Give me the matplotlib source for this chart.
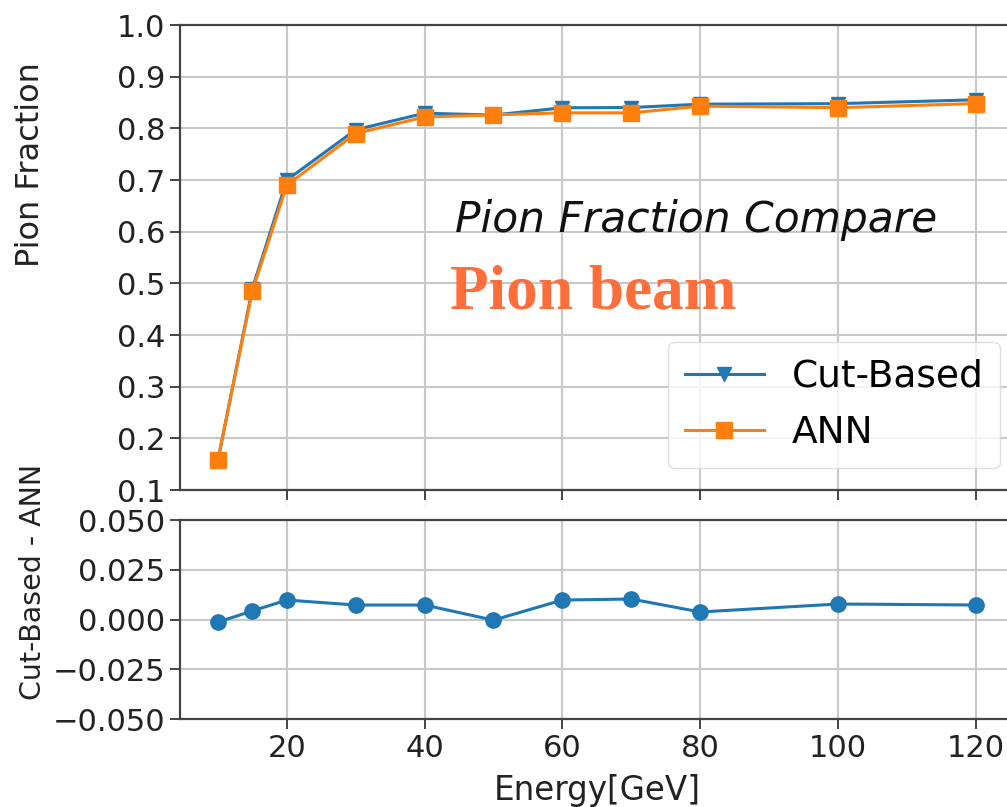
import matplotlib
matplotlib.use("Agg")
import matplotlib.pyplot as plt
import numpy as np

# Beam energies and measured pion fractions
energy = [10, 15, 20, 30, 40, 50, 60, 70, 80, 100, 120]
cut_based = [0.1567, 0.4893, 0.6998, 0.7973, 0.8293, 0.8257, 0.8398, 0.8403, 0.8468, 0.8478, 0.8553]
ann = [0.1580, 0.4850, 0.6900, 0.7900, 0.8220, 0.8260, 0.8300, 0.8300, 0.8430, 0.8400, 0.8480]

x_ticks = [20, 40, 60, 80, 100, 120]
top_yticks = [0.1, 0.2, 0.3, 0.4, 0.5, 0.6, 0.7, 0.8, 0.9, 1.0]
bottom_yticks = [-0.050, -0.025, 0.000, 0.025, 0.050]

diff = np.array(cut_based) - np.array(ann)

fig = plt.figure(figsize=(10.07, 8.07), dpi=100)
ax_top = fig.add_axes([0.1787, 0.3928, 0.828, 0.5762])
ax_bot = fig.add_axes([0.1787, 0.1090, 0.828, 0.2466])

for ax in (ax_top, ax_bot):
    ax.grid(True, color="#c8c8c8", linewidth=1.5)
    ax.set_axisbelow(True)
    for s in ax.spines.values():
        s.set_color("#444444")
        s.set_linewidth(1.6)
    ax.tick_params(direction="out", length=7, width=1.4, color="#444444",
                   labelsize=22, labelcolor="#222222")
    ax.set_xlim(4.5, 125.5)
    ax.set_xticks(x_ticks)

ax_top.plot(energy, cut_based, marker="v", markersize=10, linewidth=2.2,
            color="#1f77b4", label="Cut-Based")
ax_top.plot(energy, ann, marker="s", markersize=11, linewidth=2.2,
            color="#ff7f0e", label="ANN")
ax_top.set_ylim(0.1, 1.0)
ax_top.set_yticks(top_yticks)
ax_top.tick_params(axis="x", labelsize=1, labelcolor="#bbbbbb")
ax_top.set_ylabel("Pion Fraction", fontsize=23, color="#222222")
ax_top.yaxis.set_label_coords(-0.161, 0.699)

ax_top.text(44.4, 0.599, "Pion Fraction Compare", fontsize=30.5, style="italic",
            color="#111111")
ax_top.text(43.7, 0.452, "Pion beam", fontsize=45.5, fontweight="bold",
            family="Liberation Serif", color="#fd6e3b")

leg = ax_top.legend(loc="lower right", fontsize=27, handlelength=2.1,
                    borderpad=0.45, labelspacing=0.55, handletextpad=0.75,
                    borderaxespad=0, bbox_to_anchor=(0.984, 0.047))
leg.get_frame().set_edgecolor("#d8d8d8")

ax_bot.plot(energy, diff, marker="o", markersize=11, linewidth=2.2, color="#1f77b4")
ax_bot.set_ylim(-0.05, 0.05)
ax_bot.set_yticks(bottom_yticks)
ax_bot.set_ylabel("Cut-Based - ANN", fontsize=20.5, color="#222222")
ax_bot.yaxis.set_label_coords(-0.160, 0.688)
ax_bot.set_xlabel("Energy[GeV]", fontsize=23.5, color="#222222", labelpad=8)

fig.savefig("out.png", dpi=100)
